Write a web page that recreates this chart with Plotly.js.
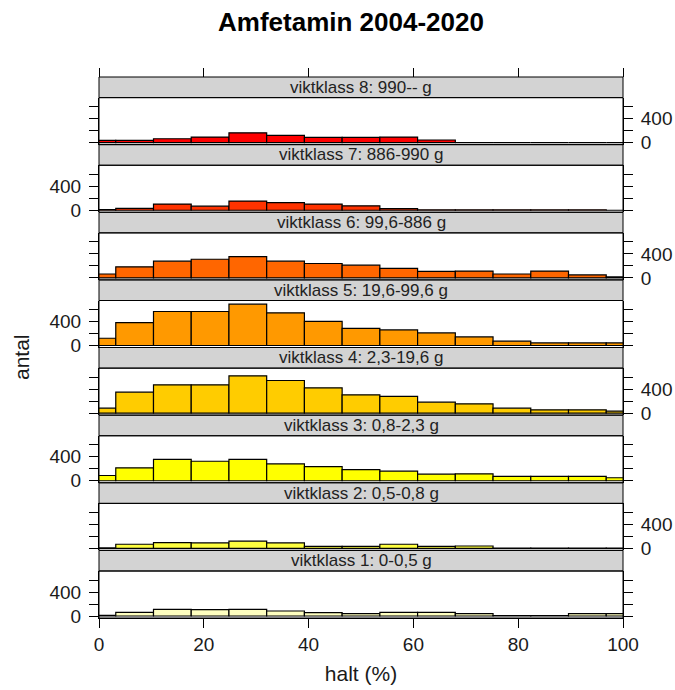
<!DOCTYPE html>
<html>
<head>
<meta charset="utf-8">
<script src="https://cdn.plot.ly/plotly-3.0.1.min.js"></script>
<style>
  html, body { margin: 0; padding: 0; background: #ffffff; }
  #chart { width: 675px; height: 690px; }
</style>
</head>
<body>
<div id="chart"></div>
<script>
// Histogram class boundaries for purity (halt, %)
const breaks = [-4, 3.2, 10.4, 17.6, 24.8, 32, 39.2, 46.4, 53.6, 60.8, 68, 75.2, 82.4, 89.6, 96.8, 104];

// Counts (antal) per bin, one array per weight class
const count1 = [10, 62, 112, 106, 112, 84, 56, 39, 62, 62, 39, 8, 8, 39, 39];
const count2 = [8, 69, 97, 91, 120, 91, 34, 34, 69, 34, 40, 4, 4, 4, 4];
const count3 = [88, 215, 358, 325, 358, 281, 237, 187, 160, 110, 116, 72, 72, 72, 50];
const count4 = [83, 350, 472, 472, 622, 544, 422, 305, 278, 183, 155, 83, 55, 55, 33];
const count5 = [121, 380, 567, 567, 689, 545, 402, 287, 259, 209, 143, 72, 44, 44, 44];
const count6 = [65, 185, 278, 311, 354, 278, 240, 212, 158, 109, 114, 65, 114, 49, 16];
const count7 = [10, 30, 103, 69, 154, 126, 103, 74, 29, 8, 8, 8, 8, 8, 0];
const count8 = [38, 38, 65, 93, 163, 120, 87, 87, 93, 44, 0, 0, 0, 0, 0];

const classLabels = [
  "viktklass 1: 0-0,5 g",
  "viktklass 2: 0,5-0,8 g",
  "viktklass 3: 0,8-2,3 g",
  "viktklass 4: 2,3-19,6 g",
  "viktklass 5: 19,6-99,6 g",
  "viktklass 6: 99,6-886 g",
  "viktklass 7: 886-990 g",
  "viktklass 8: 990-- g"
];
const classColors = ["#FFFFBF", "#FFFF40", "#FFFF00", "#FFCC00", "#FF9900", "#FF6600", "#FF3300", "#FF0000"];

const xTickVals = [0, 20, 40, 60, 80, 100];
const yTickVals = [0, 200, 400, 600];
const yTickText = ["0", "", "400", ""];

const counts = [count1, count2, count3, count4, count5, count6, count7, count8];

// Bin midpoints and widths from the class boundaries
const mids = breaks.slice(0, -1).map((b, i) => (b + breaks[i + 1]) / 2);
const widths = breaks.slice(0, -1).map((b, i) => breaks[i + 1] - b);

// Panel geometry (pixels inside the plotting region)
const FONT = "Liberation Sans, Arial, sans-serif";
const plotTop = 77, plotBottom = 618;
const plotH = plotBottom - plotTop;
const slot = plotH / 8;
const panelPx = 47;

const traces = [];
const shapes = [];
const annotations = [];
const layout = {
  width: 675,
  height: 690,
  margin: { l: 99, r: 52, t: plotTop, b: 690 - plotBottom, pad: 0 },
  paper_bgcolor: "#ffffff",
  plot_bgcolor: "#ffffff",
  showlegend: false,
  bargap: 0,
  barmode: "overlay",
  font: { family: FONT, color: "#1a1a1a" },
  title: {
    text: "<b>Amfetamin 2004-2020</b>",
    font: { family: FONT, size: 26, color: "#000000" },
    x: 351 / 675, xanchor: "center",
    y: 1 - 22 / 690, yanchor: "middle"
  },
  xaxis: {
    domain: [0, 1],
    range: [0, 100],
    anchor: "y",
    tickvals: xTickVals,
    ticks: "outside", ticklen: 9, tickwidth: 1, tickcolor: "#000000",
    showline: true, linecolor: "#000000", linewidth: 1,
    showgrid: false, zeroline: false, fixedrange: true,
    tickfont: { family: FONT, size: 19, color: "#1a1a1a" },
    title: { text: "halt (%)", font: { family: FONT, size: 21, color: "#1a1a1a" }, standoff: 12 }
  },
  xaxis2: {
    overlaying: "x",
    anchor: "free",
    position: 1,
    side: "top",
    range: [0, 100],
    tickvals: xTickVals,
    ticks: "outside", ticklen: 9, tickwidth: 1, tickcolor: "#000000",
    showticklabels: false,
    showline: false, showgrid: false, zeroline: false, fixedrange: true
  },
  shapes: shapes,
  annotations: annotations
};

for (let i = 0; i < 8; i++) {
  const axName = i === 0 ? "yaxis" : "yaxis" + (i + 1);
  const axRef = i === 0 ? "y" : "y" + (i + 1);
  const y0 = (i * slot) / plotH;
  const y1 = (i * slot + panelPx) / plotH;
  const s1 = ((i + 1) * slot) / plotH;

  layout[axName] = {
    domain: [y0, y1],
    range: [-33, 750],
    anchor: "x",
    side: i % 2 === 0 ? "left" : "right",
    tickvals: yTickVals,
    ticktext: yTickText,
    ticks: "outside", ticklen: 9, tickwidth: 1, tickcolor: "#000000",
    ticklabelstandoff: 4,
    showline: true, linecolor: "#000000", linewidth: 1,
    mirror: "ticks",
    showgrid: false, zeroline: false, fixedrange: true,
    tickfont: { family: FONT, size: 19, color: "#1a1a1a" }
  };

  traces.push({
    type: "bar",
    x: mids,
    y: counts[i],
    width: widths,
    xaxis: "x",
    yaxis: axRef,
    marker: { color: classColors[i], line: { color: "#000000", width: 1.2 } },
    hoverinfo: "skip"
  });

  // panel frame
  shapes.push({
    type: "rect", xref: "paper", yref: "paper",
    x0: 0, x1: 1, y0: y0, y1: y1,
    line: { color: "#000000", width: 1 },
    fillcolor: "rgba(0,0,0,0)", layer: "above"
  });
  // strip with the class name
  shapes.push({
    type: "rect", xref: "paper", yref: "paper",
    x0: 0, x1: 1, y0: y1, y1: s1,
    line: { color: "#000000", width: 1 },
    fillcolor: "#D3D3D3", layer: "below"
  });
  annotations.push({
    xref: "paper", yref: "paper",
    x: 0.5, y: (y1 + s1) / 2,
    xanchor: "center", yanchor: "middle",
    text: classLabels[i],
    showarrow: false,
    font: { family: FONT, size: 17, color: "#222222" }
  });
}

// Top axis carrying the mirrored x ticks
traces.push({
  type: "scatter", mode: "markers",
  x: [], y: [],
  xaxis: "x2", yaxis: "y8",
  hoverinfo: "skip", showlegend: false
});

annotations.push({
  xref: "paper", yref: "paper",
  x: (21 - 99) / 524, y: (plotBottom - 357) / plotH,
  xanchor: "center", yanchor: "middle",
  text: "antal", textangle: -90,
  showarrow: false,
  font: { family: FONT, size: 21, color: "#1a1a1a" }
});

Plotly.newPlot("chart", traces, layout, { staticPlot: true, displayModeBar: false });
</script>
</body>
</html>
